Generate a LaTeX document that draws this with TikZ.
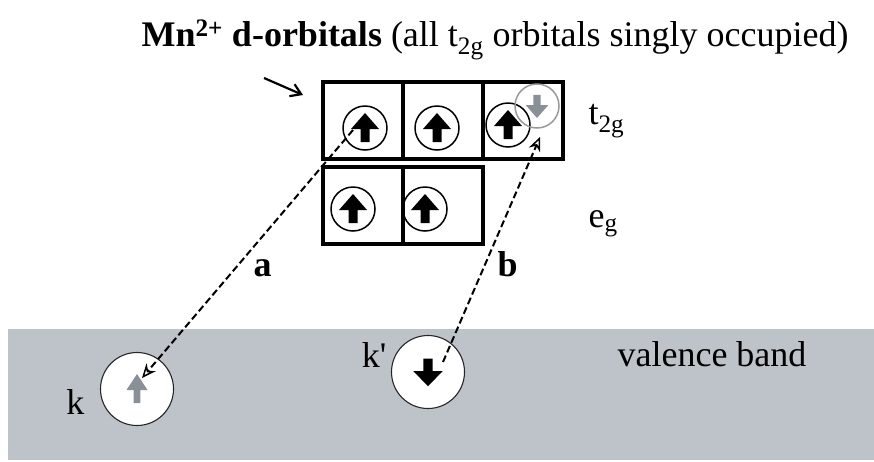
\documentclass[tikz,border=0pt]{standalone}
\usepackage{fontspec}
\setmainfont{Liberation Serif}
\usetikzlibrary{arrows.meta,positioning}
\definecolor{bandgray}{HTML}{BEC2C9}
\definecolor{spingray}{HTML}{8A9098}
\begin{document}
\begin{tikzpicture}[x=1pt,y=-1pt,font=\fontsize{36}{42}\selectfont,
  orb/.style={draw=black,line width=3.2pt,minimum width=80pt,minimum height=77pt,inner sep=0pt,outer sep=0pt},
  spin/.style={circle,draw=black,line width=1.5pt,minimum size=44pt,inner sep=0pt},
  kstate/.style={circle,draw=black!85,fill=white,line width=1.1pt,minimum size=73pt,inner sep=0pt},
  hop/.style={dash pattern=on 7pt off 3.5pt,line width=2pt,-{Stealth[open,length=14pt,width=12pt,line width=1.5pt]}},
  spinup/.pic={\fill (-14,1) -- (0,-15) -- (14,1) -- (4.5,1) -- (4.5,14) -- (-4.5,14) -- (-4.5,1) -- cycle;},
  spindown/.pic={\fill (-14,-1) -- (0,15) -- (14,-1) -- (4.5,-1) -- (4.5,-14) -- (-4.5,-14) -- (-4.5,-1) -- cycle;}]
\useasboundingbox (0,0) rectangle (874,461);
% valence band
\fill[bandgray] (8,329) rectangle (874,460);
\node[anchor=base west] (vb) at (614,366) {valence band};
% d-orbital boxes
\node[orb] (t1) at (363,120.5) {};
\node[orb,right=0pt of t1] (t2) {};
\node[orb,right=0pt of t2] (t3) {};
\node[orb,below=8pt of t1] (e1) {};
\node[orb,right=0pt of e1] (e2) {};
\node[anchor=base west] (tlab) at (585,124) {t\textsubscript{2g}};
\node[anchor=base west] (elab) at (585,227) {e\textsubscript{g}};
% occupied spins
\node[spin] (s1) at (365,128) {};
\node[spin] (s2) at (437,128) {};
\node[spin] (s3) at (508,125) {};
\node[spin] (s4) at (353,209) {};
\node[spin] (s5) at (425,209) {};
\node[spin,draw=black!40] (s6) at (537,106) {};
\foreach \s in {s1,s2,s3,s4,s5} \pic at (\s) {spinup};
\pic[color=spingray,scale=0.8] at (s6) {spindown};
% band states
\node[kstate] (k) at (137,389) {};
\node[kstate] (kp) at (428,372) {};
\pic[color=spingray,xscale=0.75] at (k) {spinup};
\pic[yscale=0.95,xscale=1.05] at (kp) {spindown};
\node[anchor=base east] (klab) at (88,414) {k};
\node[anchor=base east] (kplab) at (390,367) {k\textquotesingle};
% title and pointer
\node[anchor=base west] (title) at (138,46) {\textbf{Mn\textsuperscript{2+} d-orbitals} (all t\textsubscript{2g} orbitals singly occupied)};
\coordinate (ptail) at (264,78);
\coordinate (phead) at (303,95);
\draw[line width=2.2pt,-{Straight Barb[length=10pt,width=13pt,line width=2.2pt]}] (ptail)--(phead);
% transitions
\coordinate (astart) at (353,130);
\coordinate (aend) at (142,378);
\coordinate (bstart) at (443,362);
\coordinate (bend) at (540,137);
\draw[hop] (astart)--(aend);
\draw[hop] (bstart)--(bend);
\node[anchor=base west,font=\fontsize{36}{42}\selectfont\bfseries] (alab) at (250,276) {a};
\node[anchor=base west,font=\fontsize{36}{42}\selectfont\bfseries] (blab) at (494,276) {b};
\end{tikzpicture}
\end{document}
